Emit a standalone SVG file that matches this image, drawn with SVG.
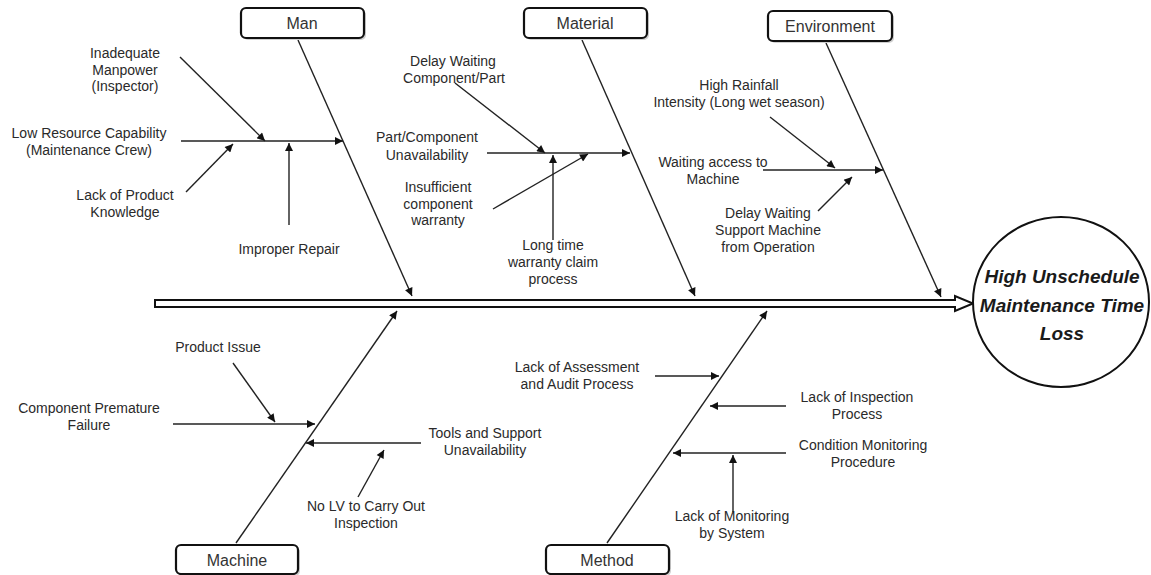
<svg xmlns="http://www.w3.org/2000/svg" width="1151" height="575" viewBox="0 0 1151 575">
<style>
  text { font-family: "Liberation Sans", Arial, sans-serif; fill: #2a2a2a; }
  .lbl { font-size: 14px; text-anchor: middle; }
  .cat { font-size: 16px; text-anchor: middle; fill: #333; }
  .box { fill: #ffffff; stroke: #111; stroke-width: 2.2; }
  .shadow { fill: #d0d0d0; stroke: none; }
  .ln { stroke: #222; stroke-width: 1.4; fill: none; marker-end: url(#ah); }
  .head { font-size: 19px; font-weight: bold; font-style: italic; text-anchor: middle; fill: #1a1a1a; }
</style>
<defs>
  <marker id="ah" viewBox="0 0 10 10" refX="10" refY="5" markerUnits="userSpaceOnUse" markerWidth="10" markerHeight="8" orient="auto">
    <path d="M0,0 L10,5 L0,10 z" fill="#111"/>
  </marker>
</defs>
<rect width="1151" height="575" fill="#ffffff"/>

<g id="connectors">
  <!-- main bones -->
  <line class="ln" x1="298" y1="40" x2="412" y2="296"/>
  <line class="ln" x1="582" y1="40" x2="695" y2="296"/>
  <line class="ln" x1="826" y1="43" x2="941" y2="297"/>
  <line class="ln" x1="236" y1="543" x2="397" y2="311"/>
  <line class="ln" x1="607" y1="543" x2="767" y2="311"/>
  <!-- Man causes -->
  <line class="ln" x1="180" y1="57" x2="265" y2="141"/>
  <line class="ln" x1="181" y1="141" x2="343" y2="141"/>
  <line class="ln" x1="186" y1="192" x2="233" y2="144"/>
  <line class="ln" x1="289" y1="225" x2="289" y2="143"/>
  <!-- Material causes -->
  <line class="ln" x1="455" y1="83" x2="545" y2="153"/>
  <line class="ln" x1="487" y1="153" x2="630" y2="153"/>
  <line class="ln" x1="493" y1="209" x2="588" y2="154"/>
  <line class="ln" x1="553" y1="240" x2="553" y2="155"/>
  <!-- Environment causes -->
  <line class="ln" x1="770" y1="117" x2="835" y2="168"/>
  <line class="ln" x1="763" y1="170" x2="883" y2="170"/>
  <line class="ln" x1="818" y1="211" x2="852" y2="177"/>
  <!-- Machine causes -->
  <line class="ln" x1="233" y1="363" x2="275" y2="422"/>
  <line class="ln" x1="173" y1="424" x2="315" y2="424"/>
  <line class="ln" x1="421" y1="443" x2="306" y2="443"/>
  <line class="ln" x1="358" y1="497" x2="384" y2="450"/>
  <!-- Method causes -->
  <line class="ln" x1="655" y1="376" x2="719" y2="376"/>
  <line class="ln" x1="786" y1="406" x2="710" y2="406"/>
  <line class="ln" x1="786" y1="453" x2="673" y2="453"/>
  <line class="ln" x1="733" y1="512" x2="733" y2="455"/>
</g>

<g id="spine">
  <path d="M155,300 H955 V296 L973,303.5 L955,311 V307 H155 Z" fill="#ffffff" stroke="#111" stroke-width="2" stroke-linejoin="miter"/>
</g>

<g id="effect">
  <ellipse cx="1061" cy="302" rx="88" ry="85" fill="#ffffff" stroke="#111" stroke-width="2"/>
  <text class="head" x="1062" y="283">High Unschedule</text>
  <text class="head" x="1062" y="312">Maintenance Time</text>
  <text class="head" x="1062" y="340">Loss</text>
</g>

<g id="cat-man">
  <rect class="shadow" x="243" y="10" width="123" height="30" rx="5"/>
  <rect class="box" x="241" y="8" width="123" height="30" rx="5"/>
  <text class="cat" x="302" y="29">Man</text>
</g>
<g id="cat-material">
  <rect class="shadow" x="526" y="10" width="123" height="30" rx="5"/>
  <rect class="box" x="524" y="8" width="123" height="30" rx="5"/>
  <text class="cat" x="585" y="29">Material</text>
</g>
<g id="cat-environment">
  <rect class="shadow" x="770" y="13" width="124" height="30" rx="5"/>
  <rect class="box" x="768" y="11" width="124" height="30" rx="5"/>
  <text class="cat" x="830" y="32">Environment</text>
</g>
<g id="cat-machine">
  <rect class="shadow" x="178" y="547" width="122" height="29" rx="5"/>
  <rect class="box" x="176" y="545" width="122" height="29" rx="5"/>
  <text class="cat" x="237" y="566">Machine</text>
</g>
<g id="cat-method">
  <rect class="shadow" x="548" y="547" width="123" height="29" rx="5"/>
  <rect class="box" x="546" y="545" width="123" height="29" rx="5"/>
  <text class="cat" x="607" y="566">Method</text>
</g>

<g id="cause-inadequate-manpower">
  <text class="lbl" x="125" y="58">Inadequate</text>
  <text class="lbl" x="125" y="75">Manpower</text>
  <text class="lbl" x="125" y="91">(Inspector)</text>
</g>
<g id="cause-low-resource">
  <text class="lbl" x="89" y="138">Low Resource Capability</text>
  <text class="lbl" x="89" y="155">(Maintenance Crew)</text>
</g>
<g id="cause-lack-product-knowledge">
  <text class="lbl" x="125" y="200">Lack of Product</text>
  <text class="lbl" x="125" y="217">Knowledge</text>
</g>
<g id="cause-improper-repair">
  <text class="lbl" x="289" y="254">Improper Repair</text>
</g>

<g id="cause-delay-component">
  <text class="lbl" x="453" y="66">Delay Waiting</text>
  <text class="lbl" x="454" y="83">Component/Part</text>
</g>
<g id="cause-part-unavailability">
  <text class="lbl" x="427" y="142">Part/Component</text>
  <text class="lbl" x="427" y="160">Unavailability</text>
</g>
<g id="cause-insufficient-warranty">
  <text class="lbl" x="438" y="192">Insufficient</text>
  <text class="lbl" x="438" y="209">component</text>
  <text class="lbl" x="438" y="225">warranty</text>
</g>
<g id="cause-long-warranty">
  <text class="lbl" x="553" y="250">Long time</text>
  <text class="lbl" x="553" y="267">warranty claim</text>
  <text class="lbl" x="553" y="284">process</text>
</g>

<g id="cause-high-rainfall">
  <text class="lbl" x="739" y="90">High Rainfall</text>
  <text class="lbl" x="739" y="107">Intensity (Long wet season)</text>
</g>
<g id="cause-waiting-access">
  <text class="lbl" x="713" y="167">Waiting access to</text>
  <text class="lbl" x="713" y="184">Machine</text>
</g>
<g id="cause-delay-support">
  <text class="lbl" x="768" y="218">Delay Waiting</text>
  <text class="lbl" x="768" y="235">Support Machine</text>
  <text class="lbl" x="768" y="252">from Operation</text>
</g>

<g id="cause-product-issue">
  <text class="lbl" x="218" y="352">Product Issue</text>
</g>
<g id="cause-premature-failure">
  <text class="lbl" x="89" y="413">Component Premature</text>
  <text class="lbl" x="89" y="430">Failure</text>
</g>
<g id="cause-tools-support">
  <text class="lbl" x="485" y="438">Tools and Support</text>
  <text class="lbl" x="485" y="455">Unavailability</text>
</g>
<g id="cause-no-lv">
  <text class="lbl" x="366" y="511">No LV to Carry Out</text>
  <text class="lbl" x="366" y="528">Inspection</text>
</g>

<g id="cause-assessment-audit">
  <text class="lbl" x="577" y="372">Lack of Assessment</text>
  <text class="lbl" x="577" y="389">and Audit Process</text>
</g>
<g id="cause-inspection-process">
  <text class="lbl" x="857" y="402">Lack of Inspection</text>
  <text class="lbl" x="857" y="419">Process</text>
</g>
<g id="cause-condition-monitoring">
  <text class="lbl" x="863" y="450">Condition Monitoring</text>
  <text class="lbl" x="863" y="467">Procedure</text>
</g>
<g id="cause-monitoring-system">
  <text class="lbl" x="732" y="521">Lack of Monitoring</text>
  <text class="lbl" x="732" y="538">by System</text>
</g>
</svg>
